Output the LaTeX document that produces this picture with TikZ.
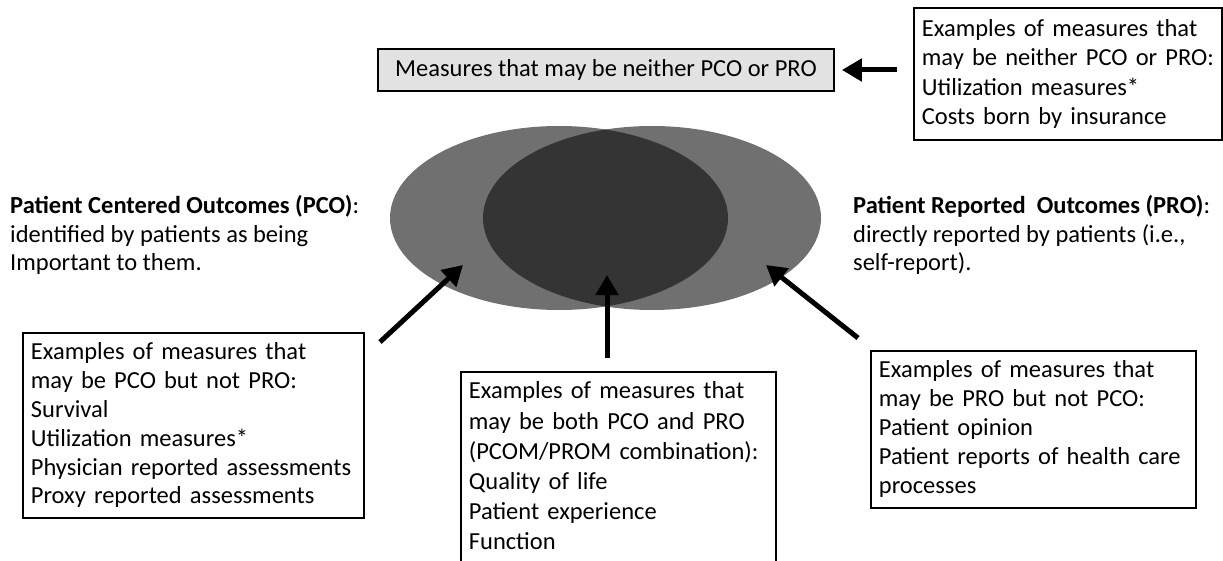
\documentclass[tikz,border=0pt]{standalone}
\usepackage{fontspec}
\setmainfont{Carlito}
\usetikzlibrary{arrows.meta}
\definecolor{lgray}{RGB}{112,112,112}
\definecolor{dgray}{RGB}{52,52,52}
\definecolor{boxgray}{RGB}{226,226,226}
\begin{document}
\begin{tikzpicture}[x=1pt,y=-1pt,
  txt/.style={font=\fontsize{24.5}{28.8}\selectfont, align=left},
  exbox/.style={txt, draw, line width=1.8pt, anchor=north west, inner xsep=8pt, inner ysep=10pt},
  arr/.style={line width=5pt, -{Triangle[length=20pt,width=22pt]}}]
\useasboundingbox (0,0) rectangle (1223,561);
% Venn ellipses
\fill[lgray] (559,218) ellipse [x radius=169, y radius=92];
\fill[lgray] (652,218) ellipse [x radius=169, y radius=92];
\begin{scope}
  \clip (559,218) ellipse [x radius=169, y radius=92];
  \fill[dgray] (652,218) ellipse [x radius=169, y radius=92];
\end{scope}
\coordinate (tipL) at (463,265);
\coordinate (tipM) at (607,275);
\coordinate (tipR) at (766,265);
% top grey box
\node[txt, draw, line width=1.8pt, fill=boxgray, minimum width=456pt, minimum height=42pt, inner sep=0pt] (gb) at (606,70) {Measures that may be neither PCO or PRO};
% top right box
\node[exbox, text width=292pt, inner ysep=11.5pt, font=\fontsize{24.5}{29.5}\selectfont] (nr) at (913,7) {\mbox{Examples of measures that}\\\mbox{may be neither PCO or PRO:}\\\mbox{Utilization measures*}\\\mbox{Costs born by insurance}};
% side labels
\node[txt, anchor=north west, inner sep=0pt] (pco) at (10,195) {\textbf{Patient Centered Outcomes (PCO)}:\\identified by patients as being\\Important to them.};
\node[txt, anchor=north west, inner sep=0pt] (pro) at (853,195) {\textbf{Patient Reported \ Outcomes (PRO)}:\\directly reported by patients (i.e.,\\self-report).};
% bottom boxes
\node[exbox, text width=325pt] (bl) at (22,332) {\mbox{Examples of measures that}\\\mbox{may be PCO but not PRO:}\\\mbox{Survival}\\\mbox{Utilization measures*}\\\mbox{Physician reported assessments}\\\mbox{Proxy reported assessments}};
\node[exbox, text width=299pt, font=\fontsize{24.5}{30.2}\selectfont] (bm) at (460,371) {\mbox{Examples of measures that}\\\mbox{may be both PCO and PRO}\\\mbox{(PCOM/PROM combination):}\\\mbox{Quality of life}\\\mbox{Patient experience}\\\mbox{Function}\rule[-4pt]{0pt}{0pt}};
\node[exbox, text width=309pt, font=\fontsize{24.5}{29}\selectfont] (br) at (870,350) {\mbox{Examples of measures that}\\\mbox{may be PRO but not PCO:}\\\mbox{Patient opinion}\\\mbox{Patient reports of health care}\\\mbox{processes}};
% arrows
\coordinate (tailL) at (380,342);
\coordinate (tailM) at (607,358);
\coordinate (tailR) at (858,338);
\draw[arr] (tailL) -- (tipL);
\draw[arr] (tailM) -- (tipM);
\draw[arr] (tailR) -- (tipR);
\draw[arr] ([xshift=-16pt]nr.west |- gb.east) -- ([xshift=7pt]gb.east);
\end{tikzpicture}
\end{document}
